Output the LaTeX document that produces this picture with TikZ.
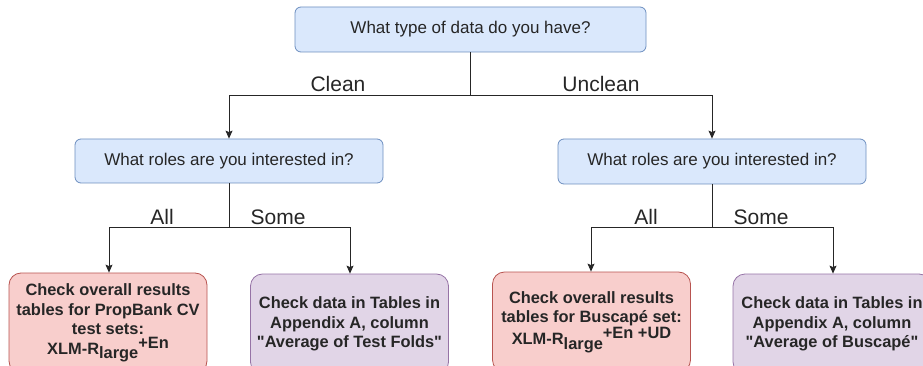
\documentclass[tikz,border=0pt]{standalone}
\usepackage{fontspec}
\setmainfont{Liberation Sans}[Ligatures=TeXOff]
\usetikzlibrary{arrows.meta}
\definecolor{bfill}{HTML}{DAE8FC}\definecolor{bdraw}{HTML}{6C8EBF}
\definecolor{rfill}{HTML}{F8CECC}\definecolor{rdraw}{HTML}{B85450}
\definecolor{pfill}{HTML}{E1D5E7}\definecolor{pdraw}{HTML}{9673A6}
\definecolor{txt}{HTML}{262626}
\tikzset{
  qbox/.style={draw=bdraw,fill=bfill,rounded corners=6pt,line width=0.8pt,inner sep=0pt,
    font=\fontsize{17}{20}\selectfont,text=txt},
  rbox/.style={draw=rdraw,fill=rfill,rounded corners=12pt,line width=0.8pt,inner sep=0pt,
    minimum width=198pt,minimum height=100pt,align=center,font=\bfseries\fontsize{16.4}{19.5}\selectfont,text=txt},
  pbox/.style={rbox,draw=pdraw,fill=pfill},
  lab/.style={font=\fontsize{21}{24}\selectfont,text=txt,inner sep=0pt,anchor=base},
  conn/.style={line width=0.8pt,draw=black!85},
  arr/.style={conn,-{Stealth[length=8pt,width=7pt,inset=1.5pt]}}
}
\newcommand{\xlm}[1]{XLM-R\raisebox{-4.5pt}{large}\raisebox{6pt}{#1}}
\begin{document}
\begin{tikzpicture}[x=1pt,y=-1pt]
\useasboundingbox (0,0) rectangle (923,366);
\clip (0,0) rectangle (923,366);
\node[qbox,minimum width=351pt,minimum height=45pt] (top) at (470.5,29.5) {What type of data do you have?};
\node[qbox,minimum width=308pt,minimum height=44pt] (ml) at (229,161) {What roles are you interested in?};
\node[qbox,minimum width=308pt,minimum height=45pt] (mr) at (712,161.5) {What roles are you interested in?};
\node[rbox] (b1) at (108,323) {Check overall results\\tables for PropBank CV\\test sets:\\\xlm{+En}};
\node[pbox] (b2) at (349.5,324) {Check data in Tables in\\Appendix A, column\\"Average of Test Folds"};
\node[rbox] (b3) at (591.5,322) {Check overall results\\tables for Buscapé set:\\\xlm{+En +UD}};
\node[pbox] (b4) at (832,324) {Check data in Tables in\\Appendix A, column\\"Average of Buscapé"};
\coordinate (j0) at (470.5,95.5);
\coordinate (j1) at (229,227);
\coordinate (j2) at (712,227);
\draw[conn] (top.south) -- (j0);
\draw[arr] (j0) -| (ml.north);
\draw[arr] (j0) -| (mr.north);
\draw[conn] (ml.south) -- (j1);
\draw[arr] (j1) -| (b1.north -| 109,0);
\draw[arr] (j1) -| (b2.north -| 350,0);
\draw[conn] (mr.south) -- (j2);
\draw[arr] (j2) -| (b3.north -| 591,0);
\draw[arr] (j2) -| (b4.north -| 833,0);
\node[lab] (lc) at (338,92) {Clean};
\node[lab] (lu) at (601,92) {Unclean};
\node[lab] (la1) at (162,224) {All};
\node[lab] (ls1) at (278,224) {Some};
\node[lab] (la2) at (646,224) {All};
\node[lab] (ls2) at (761,224) {Some};
\end{tikzpicture}
\end{document}
